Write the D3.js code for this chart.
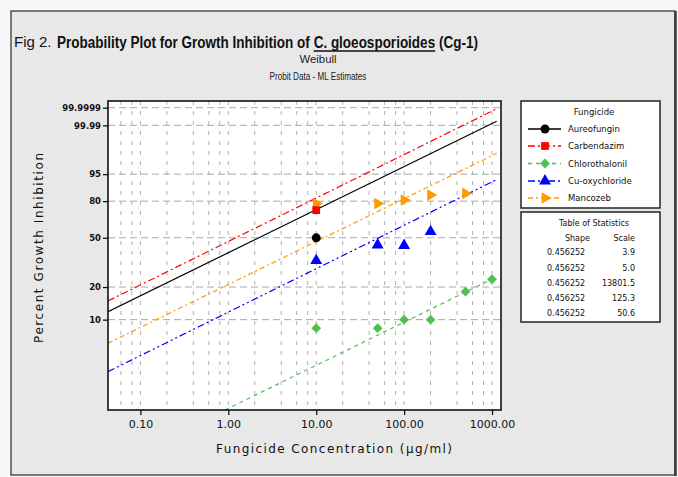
<!DOCTYPE html>
<html><head><meta charset="utf-8">
<script src="https://cdn.jsdelivr.net/npm/d3@7"></script>
<style>body{margin:0;background:#fff}svg{display:block}</style>
</head><body><svg id="c" width="678" height="477"></svg>
<script>
// ---------- data ----------
const fungicides = ["Aureofungin", "Carbendazim", "Chlorothalonil", "Cu-oxychloride", "Mancozeb"];
const seriesColors = ["#000000", "#ff0000", "#4fbf4f", "#0000ff", "#ff9900"];
// observed points [concentration µg/ml, percent inhibition]
const aureofunginPts = [[10, 50]];
const carbendazimPts = [[10, 73]];
const chlorothalonilPts = [[10, 8.3], [50, 8.3], [100, 10], [200, 10], [500, 18.2], [1000, 23.4]];
const cuoxychloridePts = [[10, 33.6], [50, 44.4], [100, 44], [200, 55]];
const mancozebPts = [[10, 78.3], [50, 78.3], [100, 80.8], [200, 84.3], [500, 85.4]];
// fitted Weibull lines (end points)
const aureofunginFit = [[0.0428, 11.9], [1130, 99.996]];
const carbendazimFit = [[0.0428, 14.95], [1130, 99.99986]];
const chlorothalonilFit = [[0.917, 1.31], [1130, 24.6]];
const cuoxychlorideFit = [[0.0428, 3.14], [1130, 92.9]];
const mancozebFit = [[0.0428, 5.94], [1130, 99.2]];
// table of statistics
const shapeVals = ["0.456252", "0.456252", "0.456252", "0.456252", "0.456252"];
const scaleVals = ["3.9", "5.0", "13801.5", "125.3", "50.6"];
// axis ticks
const yTickVals = [99.9999, 99.99, 95, 80, 50, 20, 10];
const yTickLabels = ["99.9999", "99.99", "95", "80", "50", "20", "10"];
const xTickVals = [0.1, 1, 10, 100, 1000];
const xTickLabels = ["0.10", "1.00", "10.00", "100.00", "1000.00"];
const xDomain = [0.0428, 1265];
const yDomainPct = [1.31, 99.99999];

// ---------- layout ----------
const svg = d3.select("#c");
const P = {l: 108, r: 501, t: 101, b: 410};
const weib = p => Math.log(-Math.log(1 - p / 100));
const x = d3.scaleLog().domain(xDomain).range([P.l, P.r]);
const yW = d3.scaleLinear().domain(yDomainPct.map(weib)).range([P.b, P.t]);
const y = p => yW(weib(p));

// background & frame
svg.append("rect").attr("x", 0).attr("y", 0).attr("width", 678).attr("height", 477).attr("fill", "#f7f7f7");
svg.append("rect").attr("x", 11).attr("y", 11).attr("width", 664).attr("height", 464)
  .attr("fill", "#e8e8e8").attr("stroke", "#3a3a3a").attr("stroke-width", 1.3);
svg.append("line").attr("x1", 675.5).attr("x2", 675.5).attr("y1", 11).attr("y2", 476)
  .attr("stroke", "#3a3a3a").attr("stroke-width", 2.5);

// plot area
svg.append("rect").attr("x", P.l).attr("y", P.t).attr("width", P.r - P.l).attr("height", P.b - P.t).attr("fill", "#fff");

// vertical gridlines (log minor grid at 2,4,6,8 and decades)
const xGrid = [];
for (let e = -2; e <= 3; e++) {
  [1, 2, 4, 6, 8].forEach(m => {
    const v = m * Math.pow(10, e);
    if (v >= xDomain[0] && v <= xDomain[1]) xGrid.push(v);
  });
}
const gGrid = svg.append("g");
gGrid.selectAll("line.vg").data(xGrid).join("line")
  .attr("x1", d => x(d)).attr("x2", d => x(d)).attr("y1", P.t).attr("y2", P.b)
  .attr("stroke", "#b0b0b0").attr("stroke-width", 1).attr("stroke-dasharray", "4,6");
gGrid.selectAll("line.hg").data(yTickVals).join("line")
  .attr("x1", P.l).attr("x2", P.r).attr("y1", d => y(d)).attr("y2", d => y(d))
  .attr("stroke", "#a8a8a8").attr("stroke-width", 1).attr("stroke-dasharray", "7,4");

// clip
svg.append("clipPath").attr("id", "clip").append("rect")
  .attr("x", P.l).attr("y", P.t).attr("width", P.r - P.l).attr("height", P.b - P.t);

const fits = [aureofunginFit, carbendazimFit, chlorothalonilFit, cuoxychlorideFit, mancozebFit];
const pts = [aureofunginPts, carbendazimPts, chlorothalonilPts, cuoxychloridePts, mancozebPts];
const dashes = [null, "7,3,2,3", "4,4", "7,3,2,3,2,3", "5,3,2,3"];
const line = d3.line().x(d => x(d[0])).y(d => y(d[1]));
const gLines = svg.append("g").attr("clip-path", "url(#clip)");
fits.forEach((f, i) => {
  gLines.append("path").attr("d", line(f)).attr("fill", "none")
    .attr("stroke", seriesColors[i]).attr("stroke-width", 1.2)
    .attr("stroke-dasharray", dashes[i]);
});

// symbols
const symDefs = [
  {type: d3.symbolCircle, size: 62, rot: 0},
  {type: d3.symbolSquare, size: 60, rot: 0},
  {type: d3.symbolSquare, size: 48, rot: 45},
  {type: d3.symbolTriangle, size: 62, rot: 0},
  {type: d3.symbolTriangle, size: 58, rot: 90}
];
const drawOrder = [2, 3, 4, 0, 1];
drawOrder.forEach(i => {
  const s = symDefs[i];
  svg.append("g").selectAll("path").data(pts[i]).join("path")
    .attr("d", d3.symbol().type(s.type).size(s.size))
    .attr("transform", d => `translate(${x(d[0])},${y(d[1])}) rotate(${s.rot})`)
    .attr("fill", seriesColors[i]);
});

// plot border
svg.append("rect").attr("x", P.l).attr("y", P.t).attr("width", P.r - P.l).attr("height", P.b - P.t)
  .attr("fill", "none").attr("stroke", "#111").attr("stroke-width", 1.6);

// axes
const tickFont = "'DejaVu Sans', sans-serif";
const xAxis = d3.axisBottom(x).tickValues(xTickVals).tickFormat((d, i) => xTickLabels[i]).tickSize(5).tickSizeOuter(0);
const gx = svg.append("g").attr("transform", `translate(0,${P.b})`).call(xAxis);
gx.select(".domain").remove();
gx.selectAll("line").attr("stroke", "#111").attr("stroke-width", 1.3);
gx.selectAll("text").attr("font-family", tickFont).attr("font-size", 11).attr("fill", "#111").attr("dy", "0.95em");

const yAxis = d3.axisLeft(yW).tickValues(yTickVals.map(weib)).tickFormat((d, i) => yTickLabels[i]).tickSize(5).tickSizeOuter(0);
const gy = svg.append("g").attr("transform", `translate(${P.l},0)`).call(yAxis);
gy.select(".domain").remove();
gy.selectAll("line").attr("stroke", "#111").attr("stroke-width", 1.3);
gy.selectAll("text").attr("font-family", tickFont).attr("font-size", 8.5).attr("font-weight", "bold").attr("fill", "#111").attr("x", -7);

// axis titles
svg.append("text").attr("x", 334).attr("y", 453).attr("text-anchor", "middle")
  .attr("font-family", tickFont).attr("font-size", 12).attr("fill", "#111")
  .attr("textLength", 236).attr("lengthAdjust", "spacing")
  .text("Fungicide Concentration (µg/ml)");
svg.append("text").attr("transform", "translate(43,248) rotate(-90)").attr("text-anchor", "middle")
  .attr("font-family", tickFont).attr("font-size", 12).attr("fill", "#111")
  .attr("textLength", 190).attr("lengthAdjust", "spacing")
  .text("Percent Growth Inhibition");

// titles
svg.append("text").attr("x", 14).attr("y", 47).attr("font-family", "'Liberation Sans', Arial, sans-serif")
  .attr("font-size", 15).attr("fill", "#111").text("Fig 2.");
const tg = svg.append("g");
const tParts = [
  {t: "Probability Plot for Growth Inhibition of ", u: false},
  {t: "C. gloeosporioides", u: true},
  {t: " (Cg-1)", u: false}
];
let cx = 0;
tParts.forEach(p => {
  const el = tg.append("text").attr("x", cx).attr("y", 0)
    .attr("font-family", "'Liberation Sans', Arial, sans-serif").attr("font-weight", "bold")
    .attr("font-size", 17).attr("fill", "#111").style("white-space", "pre").text(p.t);
  const w = el.node().getComputedTextLength();
  if (p.u) tg.append("line").attr("x1", cx).attr("x2", cx + w).attr("y1", 3).attr("y2", 3)
    .attr("stroke", "#111").attr("stroke-width", 1.4);
  cx += w;
});
tg.attr("transform", `translate(57,48) scale(${421 / cx},1)`);

// subtitles, squeezed horizontally to the reference widths
function squeezed(txt, cxPos, yPos, width, size) {
  const g = svg.append("g");
  const el = g.append("text").attr("x", 0).attr("y", 0).attr("text-anchor", "middle")
    .attr("font-family", "'Liberation Sans', Arial, sans-serif").attr("font-size", size)
    .attr("fill", "#222").text(txt);
  const w = el.node().getComputedTextLength();
  g.attr("transform", `translate(${cxPos},${yPos}) scale(${width / w},1)`);
}
squeezed("Weibull", 318, 63, 37, 11);
squeezed("Probit Data - ML Estimates", 318, 80, 97, 11);

// legend box
const legFont = "'DejaVu Sans', sans-serif";
svg.append("rect").attr("x", 521).attr("y", 101).attr("width", 139).attr("height", 107)
  .attr("fill", "#fff").attr("stroke", "#222").attr("stroke-width", 1.5);
svg.append("text").attr("x", 594).attr("y", 115).attr("text-anchor", "middle")
  .attr("font-family", legFont).attr("font-size", 8.5).attr("fill", "#111").text("Fungicide");
const legY = [129, 146, 163.5, 181, 198];
fungicides.forEach((f, i) => {
  const g = svg.append("g").attr("transform", `translate(0,${legY[i]})`);
  g.append("line").attr("x1", 528).attr("x2", 561).attr("y1", 0).attr("y2", 0)
    .attr("stroke", seriesColors[i]).attr("stroke-width", 1.3).attr("stroke-dasharray", dashes[i]);
  const s = symDefs[i];
  g.append("path").attr("d", d3.symbol().type(s.type).size(s.size))
    .attr("transform", `translate(545,0) rotate(${s.rot})`).attr("fill", seriesColors[i]);
  g.append("text").attr("x", 568).attr("y", 3).attr("font-family", legFont).attr("font-size", 8.5)
    .attr("fill", "#111").text(f);
});

// table of statistics
svg.append("rect").attr("x", 521).attr("y", 212).attr("width", 139).attr("height", 110)
  .attr("fill", "#fff").attr("stroke", "#222").attr("stroke-width", 1.5);
svg.append("text").attr("x", 594).attr("y", 226).attr("text-anchor", "middle")
  .attr("font-family", legFont).attr("font-size", 8).attr("fill", "#111").text("Table of Statistics");
svg.append("text").attr("x", 590).attr("y", 241).attr("text-anchor", "end")
  .attr("font-family", legFont).attr("font-size", 8).attr("fill", "#111").text("Shape");
svg.append("text").attr("x", 635).attr("y", 241).attr("text-anchor", "end")
  .attr("font-family", legFont).attr("font-size", 8).attr("fill", "#111").text("Scale");
const rowY = [255, 270.5, 285.5, 300.5, 315.5];
shapeVals.forEach((s, i) => {
  svg.append("text").attr("x", 547).attr("y", rowY[i]).attr("font-family", legFont).attr("font-size", 8)
    .attr("fill", "#111").text(s);
  svg.append("text").attr("x", 635).attr("y", rowY[i]).attr("text-anchor", "end").attr("font-family", legFont)
    .attr("font-size", 8).attr("fill", "#111").text(scaleVals[i]);
});
</script></body></html>
